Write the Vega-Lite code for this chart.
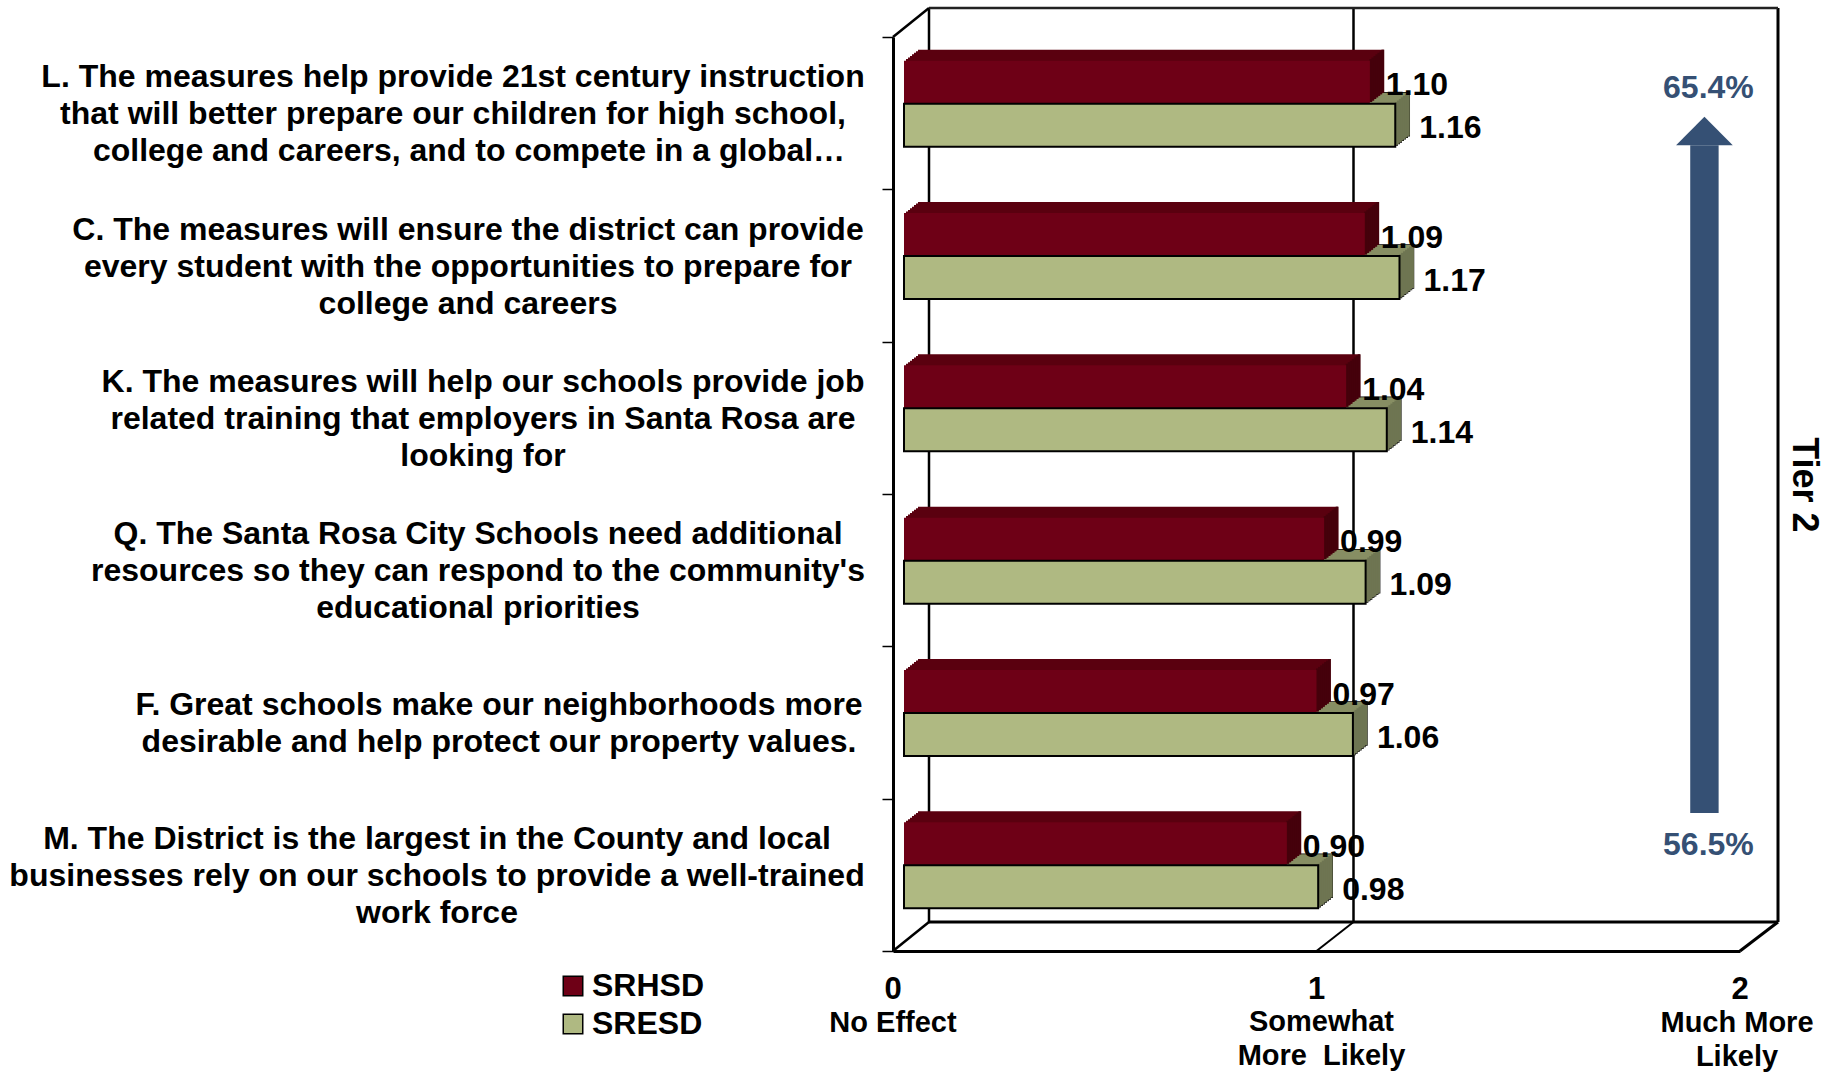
{"$schema":"https://vega.github.io/schema/vega-lite/v6.json","width":1831,"height":1072,"padding":0,"autosize":{"type":"none"},"background":"#ffffff",
"config":{"view":{"stroke":null},"axisX":{"grid":false,"title":null},"tick":{"opacity":1},"text":{"font":"Liberation Sans","fontWeight":"bold","fontSize":32,"baseline":"middle","color":"#000000","lineBreak":"\n","lineHeight":37},"rule":{"color":"#000000","strokeWidth":2.5}},
"datasets":{
"bars":[{"q":"L","d":"SRHSD","v":1.10},{"q":"L","d":"SRESD","v":1.16},{"q":"C","d":"SRHSD","v":1.088},{"q":"C","d":"SRESD","v":1.17},{"q":"K","d":"SRHSD","v":1.044},{"q":"K","d":"SRESD","v":1.14},{"q":"Q","d":"SRHSD","v":0.992},{"q":"Q","d":"SRESD","v":1.09},{"q":"F","d":"SRHSD","v":0.974},{"q":"F","d":"SRESD","v":1.06},{"q":"M","d":"SRHSD","v":0.904},{"q":"M","d":"SRESD","v":0.978}],
"questions":[
{"q":"L","part":"a","t":"L. The measures help provide 21st century instruction\nthat will better prepare our children for high school,"},
{"q":"L","part":"b","t":"college and careers, and to compete in a global…"},
{"q":"C","t":"C. The measures will ensure the district can provide\nevery student with the opportunities to prepare for\ncollege and careers"},
{"q":"K","t":"K. The measures will help our schools provide job\nrelated training that employers in Santa Rosa are\nlooking for"},
{"q":"Q","t":"Q. The Santa Rosa City Schools need additional\nresources so they can respond to the community's\neducational priorities"},
{"q":"F","t":"F. Great schools make our neighborhoods more\ndesirable and help protect our property values."},
{"q":"M","t":"M. The District is the largest in the County and local\nbusinesses rely on our schools to provide a well-trained\nwork force"}]},
"resolve":{"scale":{"y":"independent"}},
"layer":[
{"data":{"name":"bars"},"mark":{"type":"bar","opacity":0},
"encoding":{"x":{"field":"v","type":"quantitative","scale":{"domain":[0,2],"range":[893,1740]},"axis":{"orient":"bottom","offset":-121,"values":[0,1,2],"title":null,"grid":false,"domain":true,"domainWidth":3,"domainColor":"#000000","ticks":false,"labels":false}},"x2":{"datum":0},"y":{"field":"q","type":"nominal","sort":null,"scale":{"type":"band","domain":["L","C","K","Q","F","M"],"range":[37,951],"paddingInner":0,"paddingOuter":0},"axis":{"orient":"left","offset":-893,"labels":false,"title":null,"grid":false,"domain":true,"domainWidth":3,"domainColor":"#000000","ticks":true,"tickBand":"extent","tickSize":11,"tickWidth":1.5,"tickColor":"#000000"}}}},
{"data":{"values":[{"frame":"plot"}]},
"encoding":{"x":{"datum":0,"type":"quantitative"},"y":{"datum":0,"type":"quantitative","axis":null,"scale":{"domain":[0,6],"range":[951,37],"nice":false,"zero":false}}},
"layer":[
{"mark":{"type":"rule","xOffset":36,"yOffset":-29,"y2Offset":-29},"encoding":{"y2":{"datum":6}}},
{"mark":{"type":"rule","xOffset":37,"yOffset":-29,"y2Offset":-29},"encoding":{"x":{"datum":1,"type":"quantitative"},"y2":{"datum":6}}},
{"mark":{"type":"rule","xOffset":38,"yOffset":-29,"y2Offset":-29,"strokeWidth":3},"encoding":{"x":{"datum":2,"type":"quantitative"},"y2":{"datum":6}}},
{"mark":{"type":"rule","xOffset":36,"x2Offset":38,"yOffset":-29,"color":"#222222"},"encoding":{"x2":{"datum":2},"y":{"datum":6,"type":"quantitative","axis":null}}},
{"mark":{"type":"rule","xOffset":36,"x2Offset":38,"yOffset":-29,"strokeWidth":3},"encoding":{"x2":{"datum":2}}},
{"mark":{"type":"rule","x2Offset":36,"y2Offset":-29,"strokeWidth":2.5},"encoding":{"x2":{"datum":0},"y":{"datum":6,"type":"quantitative","axis":null},"y2":{"datum":6}}},
{"mark":{"type":"rule","x2Offset":36,"y2Offset":-29,"strokeWidth":2.5},"encoding":{"x2":{"datum":0},"y2":{"datum":0}}},
{"mark":{"type":"rule","x2Offset":37,"y2Offset":-29,"strokeWidth":2},"encoding":{"x":{"datum":1,"type":"quantitative"},"x2":{"datum":1},"y2":{"datum":0}}},
{"mark":{"type":"rule","x2Offset":38,"y2Offset":-29,"strokeWidth":3},"encoding":{"x":{"datum":2,"type":"quantitative"},"x2":{"datum":2},"y2":{"datum":0}}},
{"mark":{"type":"rule","color":"#355074","strokeWidth":28.4},"encoding":{"x":{"datum":1.916,"type":"quantitative"},"y":{"datum":5.29,"type":"quantitative","axis":null},"y2":{"datum":0.906}}},
{"mark":{"type":"point","filled":true,"opacity":1,"color":"#355074","shape":"M0,-.5L-1,.5L1,.5Z","size":3215},"encoding":{"x":{"datum":1.916,"type":"quantitative"},"y":{"datum":5.383,"type":"quantitative","axis":null}}},
{"mark":{"type":"text","color":"#355074","fontSize":32,"xOffset":4},"encoding":{"text":{"value":"65.4%"},"x":{"datum":1.916,"type":"quantitative"},"y":{"datum":5.665,"type":"quantitative","axis":null}}},
{"mark":{"type":"text","color":"#355074","fontSize":32,"xOffset":4},"encoding":{"text":{"value":"56.5%"},"x":{"datum":1.916,"type":"quantitative"},"y":{"datum":0.695,"type":"quantitative","axis":null}}},
{"mark":{"type":"text","angle":90,"fontSize":36,"xOffset":64},"encoding":{"text":{"value":"Tier 2"},"x":{"datum":2,"type":"quantitative"},"y":{"datum":3.06,"type":"quantitative","axis":null}}},
{"mark":{"type":"text","fontSize":31,"yOffset":39},"encoding":{"text":{"value":"0"}}},
{"mark":{"type":"text","fontSize":31,"yOffset":39},"encoding":{"text":{"value":"1"},"x":{"datum":1,"type":"quantitative"}}},
{"mark":{"type":"text","fontSize":31,"yOffset":39},"encoding":{"text":{"value":"2"},"x":{"datum":2,"type":"quantitative"}}},
{"mark":{"type":"text","fontSize":29,"yOffset":72},"encoding":{"text":{"value":"No Effect"}}},
{"mark":{"type":"text","fontSize":29,"xOffset":5,"yOffset":71,"lineHeight":34},"encoding":{"text":{"value":"Somewhat\nMore\u00a0 Likely"},"x":{"datum":1,"type":"quantitative"}}},
{"mark":{"type":"text","fontSize":29,"xOffset":-3,"yOffset":72,"lineHeight":33.5},"encoding":{"text":{"value":"Much More\nLikely"},"x":{"datum":2,"type":"quantitative"}}}
]},
{"layer":[
{"data":{"name":"bars"},"transform":[{"filter":"datum.d=='SRESD'"}],
"encoding":{"x":{"field":"v","type":"quantitative"},"x2":{"datum":0},"y":{"field":"q","type":"nominal","sort":null,"scale":{"type":"band","domain":["L","C","K","Q","F","M"],"range":[37,951],"paddingInner":0,"paddingOuter":0},"axis":null}},
"layer":[
{"mark":{"type":"bar","height":43,"color":"#000000","stroke":"#000000","strokeWidth":1.5,"xOffset":13,"x2Offset":13,"yOffset":10.4}},
{"mark":{"type":"bar","height":43,"color":"#000000","stroke":"#000000","strokeWidth":1.5,"xOffset":15,"x2Offset":15,"yOffset":8.9}},
{"mark":{"type":"bar","height":43,"color":"#000000","stroke":"#000000","strokeWidth":1.5,"xOffset":17,"x2Offset":17,"yOffset":7.3}},
{"mark":{"type":"bar","height":43,"color":"#000000","stroke":"#000000","strokeWidth":1.5,"xOffset":19,"x2Offset":19,"yOffset":5.7}},
{"mark":{"type":"bar","height":43,"color":"#000000","stroke":"#000000","strokeWidth":1.5,"xOffset":21,"x2Offset":21,"yOffset":4.2}},
{"mark":{"type":"bar","height":43,"color":"#000000","stroke":"#000000","strokeWidth":1.5,"xOffset":23,"x2Offset":23,"yOffset":2.6}},
{"mark":{"type":"bar","height":43,"color":"#000000","stroke":"#000000","strokeWidth":1.5,"xOffset":25,"x2Offset":25,"yOffset":1.0}},
{"mark":{"type":"bar","height":43,"color":"#878E63","xOffset":13,"x2Offset":13,"yOffset":10.4}},
{"mark":{"type":"bar","height":43,"color":"#878E63","xOffset":15,"x2Offset":15,"yOffset":8.9}},
{"mark":{"type":"bar","height":43,"color":"#878E63","xOffset":17,"x2Offset":17,"yOffset":7.3}},
{"mark":{"type":"bar","height":43,"color":"#878E63","xOffset":19,"x2Offset":19,"yOffset":5.7}},
{"mark":{"type":"bar","height":43,"color":"#878E63","xOffset":21,"x2Offset":21,"yOffset":4.2}},
{"mark":{"type":"bar","height":43,"color":"#878E63","xOffset":23,"x2Offset":23,"yOffset":2.6}},
{"mark":{"type":"bar","height":43,"color":"#878E63","xOffset":25,"x2Offset":25,"yOffset":1.0}}
]},
{"data":{"name":"bars"},"transform":[{"filter":"datum.d=='SRESD'"}],
"encoding":{"x":{"field":"v","type":"quantitative"},"y":{"field":"q","type":"nominal","sort":null,"scale":{"type":"band"},"axis":null},"size":{"value":43}},
"layer":[
{"mark":{"type":"tick","thickness":2.8,"color":"#6E7552","xOffset":12,"yOffset":10.4}},
{"mark":{"type":"tick","thickness":2.8,"color":"#6E7552","xOffset":14,"yOffset":8.9}},
{"mark":{"type":"tick","thickness":2.8,"color":"#6E7552","xOffset":16,"yOffset":7.3}},
{"mark":{"type":"tick","thickness":2.8,"color":"#6E7552","xOffset":18,"yOffset":5.7}},
{"mark":{"type":"tick","thickness":2.8,"color":"#6E7552","xOffset":20,"yOffset":4.2}},
{"mark":{"type":"tick","thickness":2.8,"color":"#6E7552","xOffset":22,"yOffset":2.6}},
{"mark":{"type":"tick","thickness":2.8,"color":"#6E7552","xOffset":24,"yOffset":1.0}}
]},
{"data":{"name":"bars"},"transform":[{"filter":"datum.d=='SRHSD'"}],
"encoding":{"x":{"field":"v","type":"quantitative"},"x2":{"datum":0},"y":{"field":"q","type":"nominal","sort":null,"scale":{"type":"band"},"axis":null}},
"layer":[
{"mark":{"type":"bar","height":43,"color":"#5A000F","xOffset":13,"x2Offset":13,"yOffset":-32.6}},
{"mark":{"type":"bar","height":43,"color":"#5A000F","xOffset":15,"x2Offset":15,"yOffset":-34.1}},
{"mark":{"type":"bar","height":43,"color":"#5A000F","xOffset":17,"x2Offset":17,"yOffset":-35.7}},
{"mark":{"type":"bar","height":43,"color":"#5A000F","xOffset":19,"x2Offset":19,"yOffset":-37.3}},
{"mark":{"type":"bar","height":43,"color":"#5A000F","xOffset":21,"x2Offset":21,"yOffset":-38.9}},
{"mark":{"type":"bar","height":43,"color":"#5A000F","xOffset":23,"x2Offset":23,"yOffset":-40.4}},
{"mark":{"type":"bar","height":43,"color":"#5A000F","xOffset":25,"x2Offset":25,"yOffset":-42}}
]},
{"data":{"name":"bars"},"transform":[{"filter":"datum.d=='SRHSD'"}],
"encoding":{"x":{"field":"v","type":"quantitative"},"y":{"field":"q","type":"nominal","sort":null,"scale":{"type":"band"},"axis":null},"size":{"value":43}},
"layer":[
{"mark":{"type":"tick","thickness":2.8,"color":"#45000B","xOffset":12,"yOffset":-32.6}},
{"mark":{"type":"tick","thickness":2.8,"color":"#45000B","xOffset":14,"yOffset":-34.1}},
{"mark":{"type":"tick","thickness":2.8,"color":"#45000B","xOffset":16,"yOffset":-35.7}},
{"mark":{"type":"tick","thickness":2.8,"color":"#45000B","xOffset":18,"yOffset":-37.3}},
{"mark":{"type":"tick","thickness":2.8,"color":"#45000B","xOffset":20,"yOffset":-38.9}},
{"mark":{"type":"tick","thickness":2.8,"color":"#45000B","xOffset":22,"yOffset":-40.4}},
{"mark":{"type":"tick","thickness":2.8,"color":"#45000B","xOffset":24,"yOffset":-42}}
]},
{"data":{"name":"bars"},
"encoding":{"x":{"field":"v","type":"quantitative"},"x2":{"datum":0},"y":{"field":"q","type":"nominal","sort":null,"scale":{"type":"band"},"axis":null},"color":{"field":"d","type":"nominal","scale":{"domain":["SRHSD","SRESD"],"range":["#6E0016","#AFB982"]},"legend":{"orient":"none","legendX":557,"legendY":970,"title":null,"padding":0,"symbolType":"square","symbolSize":380,"symbolStrokeColor":"#000000","symbolStrokeWidth":1.5,"symbolOpacity":1,"labelFont":"Liberation Sans","labelFontWeight":"bold","labelFontSize":32,"labelColor":"#000000","labelOffset":3,"rowPadding":6}}},
"layer":[
{"transform":[{"filter":"datum.d=='SRHSD'"}],"mark":{"type":"bar","height":43,"opacity":1,"xOffset":11,"x2Offset":11,"yOffset":-31}},
{"transform":[{"filter":"datum.d=='SRESD'"}],"mark":{"type":"bar","height":43,"opacity":1,"stroke":"#000000","strokeWidth":2,"xOffset":11,"x2Offset":11,"yOffset":12}}
]},
{"data":{"name":"bars"},
"encoding":{"x":{"field":"v","type":"quantitative"},"y":{"field":"q","type":"nominal","sort":null,"scale":{"type":"band"},"axis":null},"text":{"field":"v","type":"quantitative","format":".2f"}},
"layer":[
{"transform":[{"filter":"datum.d=='SRHSD'"}],"mark":{"type":"text","align":"left","xOffset":27,"yOffset":-28}},
{"transform":[{"filter":"datum.d=='SRESD'"}],"mark":{"type":"text","align":"left","xOffset":35,"yOffset":15}}
]},
{"data":{"name":"questions"},
"encoding":{"x":{"datum":0,"type":"quantitative"},"y":{"field":"q","type":"nominal","sort":null,"scale":{"type":"band"},"axis":null},"text":{"field":"t","type":"nominal"}},
"layer":[
{"transform":[{"filter":"datum.part=='a'"}],"mark":{"type":"text","xOffset":-440,"yOffset":-36}},
{"transform":[{"filter":"datum.part=='b'"}],"mark":{"type":"text","xOffset":-424,"yOffset":38}},
{"transform":[{"filter":"datum.q=='C'"}],"mark":{"type":"text","xOffset":-425,"yOffset":-36}},
{"transform":[{"filter":"datum.q=='K'"}],"mark":{"type":"text","xOffset":-410,"yOffset":-36}},
{"transform":[{"filter":"datum.q=='Q'"}],"mark":{"type":"text","xOffset":-415,"yOffset":-36}},
{"transform":[{"filter":"datum.q=='F'"}],"mark":{"type":"text","xOffset":-394,"yOffset":-17.5}},
{"transform":[{"filter":"datum.q=='M'"}],"mark":{"type":"text","xOffset":-456,"yOffset":-36}}
]}
]}
]}
